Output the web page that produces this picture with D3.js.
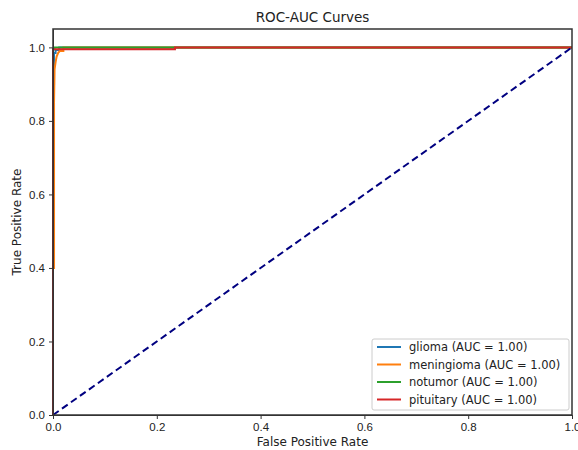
<!DOCTYPE html>
<html>
  <head>
    <meta charset="utf-8">
    <title>ROC-AUC Curves</title>
    <script src="https://cdn.jsdelivr.net/npm/d3@7"></script>
    <style>
      body { margin: 0; background: #fff; }
      #chart { display: block; font-family: "DejaVu Sans", sans-serif; }
      .axis text { font-size: 11.5px; fill: #222; }
      .axis path, .axis line { stroke: #333; stroke-width: 1; }
    </style>
  </head>

  <body>
    <svg id="chart" width="578" height="450"></svg>

    <script>
      // data
      const classes = ["glioma", "meningioma", "notumor", "pituitary"];
      const aucs = [1.00, 1.00, 1.00, 1.00];
      const colours = ["#1f77b4", "#ff7f0e", "#2ca02c", "#d62728"];

      const gliomaFpr = [0, 0, 0.002, 0.002, 0.005, 0.005, 0.012, 0.012, 1];
      const gliomaTpr = [0, 0.9, 0.9, 0.985, 0.985, 0.993, 0.993, 1, 1];
      const meningiomaFpr = [0, 0, 0.002, 0.002, 0.003, 0.005, 0.007, 0.01, 0.013, 0.02, 0.02, 1];
      const meningiomaTpr = [0, 0.4, 0.4, 0.85, 0.94, 0.96, 0.975, 0.985, 0.99, 0.99, 1, 1];
      const notumorFpr = [0, 0, 0.003, 0.003, 1];
      const notumorTpr = [0, 0.995, 0.995, 1, 1];
      const pituitaryFpr = [0, 0, 0.235, 0.235, 1];
      const pituitaryTpr = [0, 0.995, 0.995, 1, 1];

      const xTicks = [0, 0.2, 0.4, 0.6, 0.8, 1.0];
      const yTicks = [0, 0.2, 0.4, 0.6, 0.8, 1.0];

      const curves = [
        [gliomaFpr, gliomaTpr],
        [meningiomaFpr, meningiomaTpr],
        [notumorFpr, notumorTpr],
        [pituitaryFpr, pituitaryTpr]
      ].map(function(c, i) {
        return {
          name: classes[i],
          auc: aucs[i],
          colour: colours[i],
          points: c[0].map(function(f, j) { return [f, c[1][j]]; })
        };
      });

      // layout
      const margin = { top: 29, right: 6, bottom: 35, left: 53 };
      const width = 578, height = 450;
      const chart = d3.select("#chart");

      const x = d3.scaleLinear().domain([0, 1]).range([margin.left, width - margin.right]);
      const y = d3.scaleLinear().domain([0, 1.05]).range([height - margin.bottom, margin.top]);

      // curves
      const line = d3.line()
        .x(function(d) { return x(d[0]); })
        .y(function(d) { return y(d[1]); });

      chart.append("g")
        .selectAll("path")
        .data(curves)
        .join("path")
          .attr("d", function(d) { return line(d.points); })
          .attr("fill", "none")
          .attr("stroke", function(d) { return d.colour; })
          .attr("stroke-width", 2);

      // chance line
      chart.append("path")
        .attr("d", line([[0, 0], [1, 1]]))
        .attr("fill", "none")
        .attr("stroke", "#000080")
        .attr("stroke-width", 2)
        .attr("stroke-dasharray", "7,4");

      // spines go over the lines, as matplotlib does
      chart.append("rect")
        .attr("x", x(0))
        .attr("y", y(1.05))
        .attr("width", x(1) - x(0))
        .attr("height", y(0) - y(1.05))
        .attr("fill", "none")
        .attr("stroke", "#333")
        .attr("stroke-width", 1.5);

      // axes
      chart.append("g")
        .attr("class", "axis")
        .attr("transform", "translate(0," + (height - margin.bottom) + ")")
        .call(d3.axisBottom(x).tickValues(xTicks).tickFormat(d3.format(".1f")).tickSize(4).tickPadding(4).tickSizeOuter(0));
      chart.append("g")
        .attr("class", "axis")
        .attr("transform", "translate(" + margin.left + ",0)")
        .call(d3.axisLeft(y).tickValues(yTicks).tickFormat(d3.format(".1f")).tickSize(4).tickPadding(4).tickSizeOuter(0));

      // titles
      chart.append("text")
        .attr("x", (x(0) + x(1)) / 2)
        .attr("y", 22)
        .attr("text-anchor", "middle")
        .style("font-size", "13.5px")
        .attr("fill", "#222")
        .text("ROC-AUC Curves");
      chart.append("text")
        .attr("x", (x(0) + x(1)) / 2)
        .attr("y", 446)
        .attr("text-anchor", "middle")
        .style("font-size", "12px")
        .attr("fill", "#222")
        .text("False Positive Rate");
      chart.append("text")
        .attr("transform", "translate(21," + (y(0) + y(1.05)) / 2 + ") rotate(-90)")
        .attr("text-anchor", "middle")
        .style("font-size", "12px")
        .attr("fill", "#222")
        .text("True Positive Rate");

      // legend
      const legend = chart.append("g").attr("transform", "translate(372,339)");
      legend.append("rect")
        .attr("width", 197)
        .attr("height", 71)
        .attr("rx", 2)
        .attr("fill", "#fff")
        .attr("fill-opacity", 0.8)
        .attr("stroke", "#ccc");
      const items = legend.selectAll(".item")
        .data(curves)
        .join("g")
          .attr("class", "item")
          .attr("transform", function(d, i) { return "translate(0," + (8 + i * 17.5) + ")"; });
      items.append("line")
        .attr("x1", 5).attr("x2", 29)
        .attr("stroke", function(d) { return d.colour; })
        .attr("stroke-width", 2);
      items.append("text")
        .attr("x", 37)
        .attr("dy", "0.35em")
        .style("font-size", "11.5px")
        .attr("fill", "#222")
        .text(function(d) { return d.name + " (AUC = " + d3.format(".2f")(d.auc) + ")"; });
    </script>
  </body>
</html>
